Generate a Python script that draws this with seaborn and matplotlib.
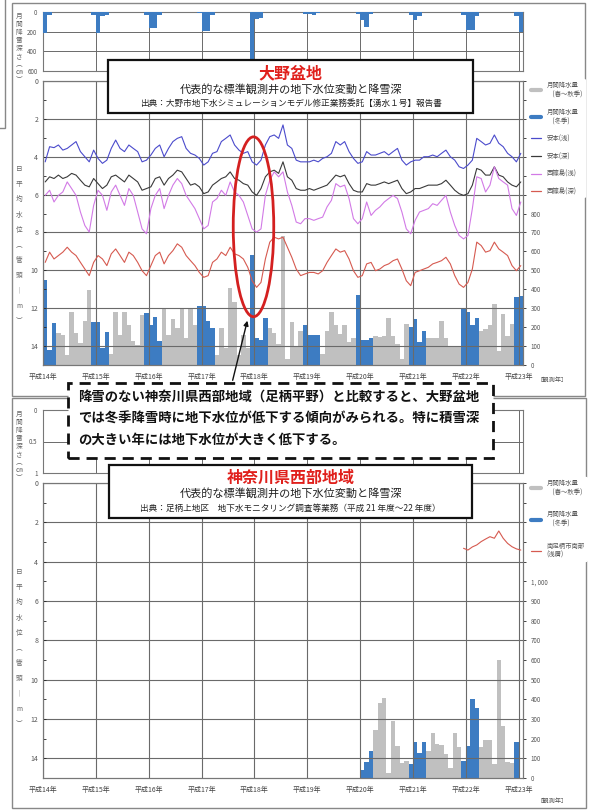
import numpy as np
import pandas as pd
import matplotlib
matplotlib.use('Agg')
import matplotlib.pyplot as plt
import seaborn as sns
from matplotlib.patches import Rectangle, Ellipse, FancyArrowPatch
from matplotlib.lines import Line2D
from matplotlib.ticker import MultipleLocator, FixedLocator

sns.set_theme(style='white')
plt.rcParams['font.family'] = ['Noto Sans CJK JP', 'DejaVu Sans']

W, H = 589, 811

year_labels = ['平成14年', '平成15年', '平成16年', '平成17年', '平成18年',
               '平成19年', '平成20年', '平成21年', '平成22年', '平成23年']

# --------------------
# 大野盆地: monthly values Jan 2002 (H14) .. Jan 2011 (H23), depth below casing top [m]
# --------------------
yasumoto_shallow = [
  4.27, 3.47, 3.52, 3.38, 3.65, 3.56, 3.38, 3.20, 3.73, 4.00, 4.27, 3.65,
  4.09, 4.35, 4.18, 3.56, 3.12, 3.56, 3.73, 3.38, 3.56, 3.73, 4.27, 4.18,
  3.91, 3.56, 3.38, 4.00, 3.56, 3.20, 3.03, 2.94, 3.56, 3.82, 3.91, 4.09,
  4.44, 4.27, 3.82, 3.73, 3.20, 3.03, 2.85, 3.38, 3.65, 3.82, 3.73, 4.27,
  4.44, 4.18, 3.38, 2.94, 2.85, 3.03, 2.32, 3.38, 3.56, 4.18, 4.27, 4.27,
  4.27, 4.18, 4.27, 4.09, 4.00, 3.82, 3.20, 3.38, 3.20, 3.73, 4.09, 4.35,
  4.27, 3.73, 3.91, 3.91, 3.82, 3.73, 3.91, 3.73, 3.56, 4.18, 4.44, 4.27,
  4.18, 4.18, 4.00, 4.00, 3.91, 4.00, 3.82, 3.65, 4.00, 4.18, 4.53, 4.62,
  4.44, 4.18, 3.03, 3.20, 3.38, 3.29, 2.85, 3.29, 3.47, 3.82, 4.00, 4.27,
  3.82]
yasumoto_deep = [
  5.33, 5.06, 5.15, 4.97, 5.15, 5.06, 4.88, 4.97, 5.24, 5.50, 5.59, 5.15,
  5.42, 5.68, 5.50, 5.06, 4.97, 5.15, 5.33, 4.97, 5.15, 5.33, 5.77, 5.68,
  5.59, 5.15, 5.06, 5.50, 5.15, 4.97, 4.71, 4.80, 5.15, 5.50, 5.42, 5.59,
  5.95, 5.86, 5.50, 5.33, 5.15, 5.06, 4.80, 5.15, 5.24, 5.42, 5.50, 5.86,
  6.04, 5.68, 5.06, 4.80, 4.71, 4.88, 4.27, 5.06, 5.24, 5.68, 5.77, 5.77,
  5.68, 5.77, 5.68, 5.59, 5.50, 5.24, 4.97, 5.06, 4.97, 5.42, 5.77, 5.86,
  5.86, 5.42, 5.50, 5.50, 5.42, 5.33, 5.42, 5.33, 5.24, 5.68, 5.95, 5.86,
  5.68, 5.68, 5.59, 5.50, 5.50, 5.50, 5.42, 5.24, 5.50, 5.77, 5.95, 6.04,
  5.95, 5.50, 4.62, 4.71, 4.97, 4.97, 4.53, 4.97, 5.06, 5.33, 5.50, 5.59,
  5.33]
nishi_shallow = [
  6.04, 5.77, 6.39, 6.04, 5.86, 5.33, 5.68, 6.04, 6.92, 7.63, 7.98, 6.57,
  5.77, 6.04, 6.83, 5.86, 5.50, 6.04, 6.57, 5.68, 6.04, 6.92, 7.81, 8.07,
  6.74, 6.04, 5.68, 6.74, 6.04, 5.50, 5.15, 5.42, 6.04, 6.39, 6.74, 7.27,
  7.81, 7.63, 6.39, 6.21, 5.77, 6.04, 5.33, 5.86, 6.04, 6.39, 7.10, 7.81,
  7.98, 7.81, 6.04, 5.24, 4.80, 5.06, 4.80, 5.86, 6.57, 7.45, 7.54, 7.27,
  7.27, 7.36, 7.27, 7.19, 6.65, 6.30, 5.42, 5.59, 5.50, 6.21, 7.27, 7.54,
  7.27, 6.39, 7.10, 6.83, 6.65, 6.39, 6.21, 6.04, 6.21, 6.92, 7.81, 8.07,
  7.36, 6.92, 6.83, 6.74, 6.48, 6.57, 6.30, 6.04, 6.92, 7.63, 8.16, 8.34,
  8.16, 6.74, 5.06, 5.15, 5.86, 5.50, 4.53, 5.15, 5.33, 5.50, 6.74, 7.10,
  6.39]
nishi_deep = [
  9.58, 9.04, 9.40, 9.22, 9.04, 8.78, 9.04, 9.22, 9.58, 9.93, 10.28, 9.58,
  9.22, 9.40, 9.75, 9.13, 8.87, 9.22, 9.58, 9.04, 9.22, 9.58, 10.02, 10.28,
  9.75, 9.22, 9.04, 9.66, 9.22, 8.96, 8.60, 8.78, 9.22, 9.49, 9.75, 10.11,
  10.37, 10.28, 9.58, 9.40, 9.04, 9.22, 8.78, 9.13, 9.22, 9.40, 9.84, 10.55,
  10.90, 10.64, 9.40, 8.51, 8.25, 8.34, 8.25, 8.78, 9.31, 9.93, 10.28, 10.19,
  10.11, 10.11, 10.19, 10.02, 9.58, 9.22, 8.87, 9.04, 8.96, 9.40, 10.02, 10.37,
  10.28, 9.66, 9.58, 10.02, 9.93, 9.75, 9.66, 9.49, 9.40, 9.93, 10.55, 10.81,
  10.11, 10.02, 9.93, 9.84, 9.66, 9.58, 9.49, 9.31, 9.66, 10.28, 10.73, 10.90,
  10.64, 9.93, 8.51, 8.69, 9.04, 8.96, 8.51, 8.87, 9.04, 9.22, 9.75, 10.02,
  9.75]
# monthly precipitation [mm], Jan 2002 .. Jan 2011
ono_precip = [
  450, 80, 220, 170, 160, 55, 280, 170, 115, 230, 395, 225,
  225, 90, 175, 60, 280, 160, 280, 210, 125, 105, 265, 275,
  210, 255, 125, 300, 160, 245, 195, 300, 140, 300, 210, 310,
  310, 230, 195, 55, 195, 90, 405, 335, 55, 160, 90, 580,
  140, 130, 250, 195, 170, 110, 680, 30, 225, 100, 180, 210,
  160, 160, 160, 60, 180, 280, 210, 165, 210, 120, 145, 370,
  130, 130, 145, 155, 150, 155, 250, 155, 110, 30, 215, 200,
  245, 120, 180, 140, 140, 140, 235, 140, 100, 100, 100, 300,
  280, 210, 250, 180, 190, 210, 320, 75, 270, 155, 215, 360,
  365]
# monthly snow depth [cm] per winter (Dec of previous year, Jan, Feb, Mar)
snow_winter = [2002, 2003, 2004, 2005, 2006, 2007, 2008, 2009, 2010, 2011]
snow_dec = [0, 30, 30, 10, 750, 20, 20, 30, 30, 40]
snow_jan = [210, 210, 160, 190, 70, 25, 80, 80, 180, 200]
snow_feb = [30, 40, 160, 190, 60, 30, 150, 40, 180, 0]
snow_mar = [0, 30, 30, 30, 0, 15, 20, 0, 40, 0]

# --------------------
# 神奈川県西部地域
# --------------------
kana_precip = [  # Jan 2008 .. Dec 2010
  42, 80, 135, 245, 380, 405, 25, 290, 165, 75, 85, 73,
  185, 125, 185, 135, 230, 175, 170, 120, 50, 230, 160, 85,
  165, 400, 355, 160, 195, 195, 70, 600, 265, 80, 75, 185]
minamiashigara = [  # Dec 2009 .. Jan 2011
  3.32, 3.41, 3.25, 3.15, 2.98, 2.85, 2.73, 2.81, 2.44, 2.81, 3.07, 3.24,
  3.35, 3.41]

BLUE = '#3d7cc2'
GRAY = '#c0c0c0'
GRID = '#6a6a6a'
line_colors = ['#4b4bcc', '#3a3a3a', '#d27ae6', '#d65a50']
well_names = ['安本(浅)', '安本(深)', '西篠島(浅)', '西篠島(深)']


def fbox(x0, y0, x1, y1):
  return [x0 / W, 1 - y1 / H, (x1 - x0) / W, (y1 - y0) / H]


def monthly_precip_df(values, start):
  idx = np.arange(start, start + len(values))
  moy = idx % 12 + 1
  season = np.where(np.isin(moy, [12, 1, 2, 3]), '冬季', '春～秋季')
  return pd.DataFrame({'x': idx + 0.5, 'precip': values, 'season': season})


def style_time_axis(ax, labels=True):
  ax.set_xlim(0, 109)
  ax.xaxis.set_major_locator(FixedLocator(np.arange(0, 109, 12)))
  ax.xaxis.set_minor_locator(MultipleLocator(1))
  if labels:
    ax.set_xticklabels(year_labels, fontsize=5, color='#444')
  else:
    ax.set_xticklabels([])
  ax.tick_params(axis='x', which='major', length=0, pad=6)
  ax.tick_params(axis='x', which='minor', direction='in', length=2.5,
                 width=0.6, color='#555')
  ax.set_xlabel('')


def draw_panel(ax_s, ax_m, precip_df, lines_df, palette, snow_df, snow_max,
               snow_ticks, snow_ticklabels, rlabel_max, rfmt):
  # snow depth (hanging bars)
  if snow_df is not None:
    sns.barplot(data=snow_df, x='x', y='snow', color=BLUE, native_scale=True,
                width=1, errorbar=None, saturation=1, linewidth=0, ax=ax_s)
    for p in ax_s.patches:
      p.set_clip_on(False)
      p.set_zorder(3)
  ax_s.set_ylim(snow_max, 0)
  ax_s.set_yticks(snow_ticks)
  ax_s.set_yticklabels(snow_ticklabels, fontsize=4.5, color='#555')
  ax_s.tick_params(axis='y', length=2, pad=2)
  ax_s.set_ylabel('')
  style_time_axis(ax_s, labels=False)
  ax_s.tick_params(axis='x', which='minor', length=0)
  ax_s.grid(True, which='major', color=GRID, lw=0.7)
  for s in ax_s.spines.values():
    s.set_color('#777')
    s.set_linewidth(0.8)

  # precipitation bars on the right axis, behind the water levels
  ax_p = ax_m.twinx()
  sns.barplot(data=precip_df, x='x', y='precip', hue='season',
              palette={'冬季': BLUE, '春～秋季': GRAY}, native_scale=True,
              dodge=False, width=1, errorbar=None, saturation=1,
              linewidth=0, legend=False, ax=ax_p)
  ax_p.set_ylim(0, 1500)
  ticks = np.arange(0, 1501, 100)
  ax_p.set_yticks(ticks)
  ax_p.set_yticklabels([rfmt(t) if t <= rlabel_max else '' for t in ticks],
                       fontsize=4.5, color='#555')
  ax_p.tick_params(axis='y', length=2.5, width=0.6, pad=3)
  ax_p.set_ylabel('')
  ax_p.set_xlabel('')

  ax_m.set_zorder(ax_p.get_zorder() + 1)
  ax_m.patch.set_visible(False)
  sns.lineplot(data=lines_df, x='x', y='depth', hue='well', palette=palette,
               linewidth=0.8, legend=False, ax=ax_m)
  ax_m.set_ylim(15, 0)
  ax_m.set_yticks(np.arange(0, 15, 2))
  ax_m.yaxis.set_minor_locator(MultipleLocator(1))
  ax_m.set_yticklabels([str(t) for t in range(0, 15, 2)], fontsize=5,
                       color='#555')
  ax_m.tick_params(axis='y', which='both', direction='in', length=2.5,
                   width=0.6, left=True)
  ax_m.set_ylabel('')
  style_time_axis(ax_m)
  ax_m.grid(True, which='major', color=GRID, lw=0.8)
  for a in (ax_m, ax_p):
    for s in a.spines.values():
      s.set_color('#777')
      s.set_linewidth(0.8)
  # snow axes on top so the deep 平成18 bar can hang past its frame
  ax_s.set_zorder(ax_m.get_zorder() + 1)
  return ax_p


fig = plt.figure(figsize=(W / 100, H / 100), dpi=100)
fig.patch.set_facecolor('white')

# outer frames
for x0, y0, x1, y1 in [(12, 3, 585, 396), (12, 398, 586, 808), (-4, -2, 5, 128)]:
  fig.patches.append(Rectangle((x0 / W, 1 - y1 / H), (x1 - x0) / W,
                               (y1 - y0) / H, transform=fig.transFigure,
                               fill=False, ec='#888', lw=1))

# ---- top panel: 大野盆地 ----
ax_s1 = fig.add_axes(fbox(43, 12, 523, 71))
ax_m1 = fig.add_axes(fbox(43, 81, 523, 365))

months = np.arange(len(yasumoto_shallow)) + 0.5
ono_lines = pd.concat([
  pd.DataFrame({'x': months, 'depth': vals, 'well': name})
  for name, vals in zip(well_names, [yasumoto_shallow, yasumoto_deep,
                                     nishi_shallow, nishi_deep])
], ignore_index=True)

snow_rows = []
for yr, d, j, f, m in zip(snow_winter, snow_dec, snow_jan, snow_feb, snow_mar):
  base = (yr - 2002) * 12
  for off, v in zip([-1, 0, 1, 2], [d, j, f, m]):
    if v > 0 and 0 <= base + off < 109:
      snow_rows.append({'x': base + off + 0.5, 'snow': v})
snow_df = pd.DataFrame(snow_rows)

draw_panel(ax_s1, ax_m1, monthly_precip_df(ono_precip, 0), ono_lines,
           dict(zip(well_names, line_colors)), snow_df, 600,
           [0, 200, 400, 600], ['0', '200', '400', '600'], 800,
           lambda t: f'{t}')

# ---- bottom panel: 神奈川県西部地域 ----
ax_s2 = fig.add_axes(fbox(43, 410, 523, 473))
ax_m2 = fig.add_axes(fbox(43, 483, 523, 778))
kana_lines = pd.DataFrame({
  'x': np.arange(95, 95 + len(minamiashigara)) + 0.5,
  'depth': minamiashigara, 'well': '南足柄市南部'})
draw_panel(ax_s2, ax_m2, monthly_precip_df(kana_precip, 72), kana_lines,
           {'南足柄市南部': '#d65a50'}, None, 1,
           [0, 0.5, 1], ['0', '0.5', '1'], 1000,
           lambda t: f'{t:,}'.replace(',', ', '))

# vertical stacked axis titles
for y0, txt in [(12, '月\n間\n降\n雪\n深\nさ\n︵\n㎝\n︶'),
                (165, '日\n平\n均\n水\n位\n︵\n管\n頭\n｜\nm\n︶'),
                (410, '月\n間\n降\n雪\n深\nさ\n︵\n㎝\n︶'),
                (568, '日\n平\n均\n水\n位\n︵\n管\n頭\n｜\nm\n︶')]:
  ls = 1.0 if txt.startswith('月') else 2.2
  fig.text(19 / W, 1 - y0 / H, txt, fontsize=4.8, color='#666',
           ha='center', va='top', linespacing=ls)

for y in (380, 801):
  fig.text(537 / W, 1 - y / H, '［観測年］', fontsize=4.5, color='#555',
           ha='left', va='center')

# legends
h_gray = Line2D([0], [0], color=GRAY, lw=3)
h_blue = Line2D([0], [0], color=BLUE, lw=3)
top_handles = [h_gray, h_blue] + [Line2D([0], [0], color=c, lw=0.9)
                                  for c in line_colors]
top_labels = ['月間降水量\n　(春～秋季)', '月間降水量\n　(冬季)'] + well_names
fig.legend(top_handles, top_labels, loc='upper left',
           bbox_to_anchor=(526 / W, 1 - 76 / H), fontsize=4.6,
           frameon=True, facecolor='white', edgecolor='white', framealpha=1,
           handlelength=1.6, labelspacing=1.5, borderpad=0.3,
           labelcolor='#555')
fig.legend([h_gray, h_blue, Line2D([0], [0], color='#d65a50', lw=0.9)],
           ['月間降水量\n　(春～秋季)', '月間降水量\n　(冬季)',
            '南足柄市南部\n(浅層)'], loc='upper left',
           bbox_to_anchor=(526 / W, 1 - 474 / H), fontsize=4.6,
           frameon=True, facecolor='white', edgecolor='white', framealpha=1,
           handlelength=1.6, labelspacing=2.2, borderpad=0.3,
           labelcolor='#555')

# title boxes
def title_box(x0, y0, x1, y1, name, lines, ys):
  fig.patches.append(Rectangle((x0 / W, 1 - y1 / H), (x1 - x0) / W,
                               (y1 - y0) / H, transform=fig.transFigure,
                               fc='white', ec='#111', lw=1.6, zorder=10))
  cx = (x0 + x1) / 2 / W
  fig.text(cx, 1 - ys[0] / H, name, color='#e0201c', fontsize=11.5,
           fontweight='bold', ha='center', va='center', zorder=11)
  fig.text(cx, 1 - ys[1] / H, lines[0], color='#222', fontsize=8,
           ha='center', va='center', zorder=11)
  fig.text(cx, 1 - ys[2] / H, lines[1], color='#222', fontsize=6.2,
           ha='center', va='center', zorder=11)

title_box(108, 60, 473, 113, '大野盆地',
          ['代表的な標準観測井の地下水位変動と降雪深',
           '出典：大野市地下水シミュレーションモデル修正業務委託【湧水１号】報告書'],
          [73, 89, 103])
title_box(109, 465, 472, 518, '神奈川県西部地域',
          ['代表的な標準観測井の地下水位変動と降雪深',
           '出典：足柄上地区　地下水モニタリング調査等業務（平成 21 年度～22 年度）'],
          [478, 493, 508])

# red ellipse around the 平成18年 winter
ax_m1.add_patch(Ellipse((47.8, 7.7), 9.2, 9.5, fill=False, ec='#d42020',
                        lw=2, clip_on=False, zorder=20))

# dashed callout
fig.patches.append(Rectangle((68 / W, 1 - 458 / H), 425 / W, 75 / H,
                             transform=fig.transFigure, fc='white', ec='#111',
                             lw=2, ls=(0, (4, 2.5)), zorder=12))
callout = ['降雪のない神奈川県西部地域（足柄平野）と比較すると、大野盆地',
           'では冬季降雪時に地下水位が低下する傾向がみられる。特に積雪深',
           'の大きい年には地下水位が大きく低下する。']
for y, t in zip([397, 419, 440], callout):
  fig.text(78 / W, 1 - y / H, t, fontsize=9.6, fontweight='bold',
           color='#111', ha='left', va='center', zorder=13)
fig.add_artist(FancyArrowPatch(
  (232 / W, 1 - 383 / H), (248 / W, 1 - 318 / H), transform=fig.transFigure,
  arrowstyle='-|>', mutation_scale=7, color='#111', lw=1, zorder=14))

fig.savefig('out.png', dpi=100, facecolor='white')
